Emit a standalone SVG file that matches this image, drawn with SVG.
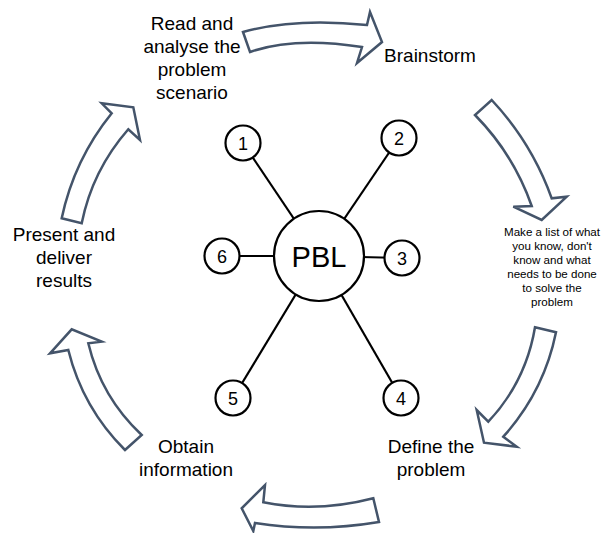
<svg xmlns="http://www.w3.org/2000/svg" width="603" height="533" viewBox="0 0 603 533">
<style>
.arrow{fill:#fff;stroke:#44546A;stroke-width:2.5;stroke-linejoin:miter}
.lbl{font-family:"Liberation Sans",Arial,sans-serif;font-size:19px;fill:#000;text-anchor:middle}
.sm{font-family:"Liberation Sans",Arial,sans-serif;font-size:11.6px;fill:#000;text-anchor:middle}
.num{font-family:"Liberation Sans",Arial,sans-serif;font-size:18px;fill:#000;text-anchor:middle}
.c{fill:#fff;stroke:#000;stroke-width:2.2}
.ln{stroke:#000;stroke-width:2.2}
</style>
<rect width="603" height="533" fill="#fff"/>
<g id="connectors">
<line class="ln" x1="319" y1="256" x2="243" y2="143"/>
<line class="ln" x1="319" y1="256" x2="399" y2="138"/>
<line class="ln" x1="319" y1="256" x2="402" y2="258"/>
<line class="ln" x1="319" y1="256" x2="401" y2="398"/>
<line class="ln" x1="319" y1="256" x2="233" y2="398"/>
<line class="ln" x1="319" y1="256" x2="222" y2="256"/>
</g>
<g id="cycle-arrows">
<path class="arrow" d="M243,32 Q295,17.5 367,25 L370,12 L382,42 L357,63 L362,47 Q294,36.5 250,52 Z"/>
<path class="arrow" d="M491.7,100 Q531.9,142.9 551.7,198.3 L566.7,196.7 L541.7,220 L513.3,206.7 L531.7,206 Q513.6,154.2 475,115 Z"/>
<path class="arrow" d="M535,327.3 L556,332.3 Q543.9,391.7 503.3,436.7 L516.7,446.7 L484,442.7 L476.7,410 L488.3,421.7 Q525.9,381.7 535,327.3 Z"/>
<path class="arrow" d="M373.3,498.3 Q317,513 263.3,502.3 L265,485 L241.7,508.3 L253.3,531 L255,523 Q317,532.5 379,522 Z"/>
<path class="arrow" d="M125,450 L141.7,435 Q101.2,397.2 88.3,343.3 L101.7,341.7 L71.7,329.3 L50,353.3 L68.3,350 Q82.7,407.9 125,450 Z"/>
<path class="arrow" d="M61.7,218.3 Q74.1,159.8 111.7,113.3 L101.7,103.3 L133.3,107.3 L140,140 L128.3,129.3 Q92.4,170.3 81.7,223.3 Z"/>
</g>
<g id="pbl">
<circle class="c" cx="319" cy="256" r="45"/>
<text x="319" y="267" font-family="Liberation Sans,Arial,sans-serif" font-size="29" text-anchor="middle">PBL</text>
</g>
<g id="n1"><circle class="c" cx="243" cy="143" r="17.5"/><text class="num" x="243" y="150">1</text></g>
<g id="n2"><circle class="c" cx="399" cy="138" r="17.5"/><text class="num" x="399" y="145">2</text></g>
<g id="n3"><circle class="c" cx="402" cy="258" r="17.5"/><text class="num" x="402" y="265">3</text></g>
<g id="n4"><circle class="c" cx="401" cy="398" r="17.5"/><text class="num" x="401" y="405">4</text></g>
<g id="n5"><circle class="c" cx="233" cy="398" r="17.5"/><text class="num" x="233" y="405">5</text></g>
<g id="n6"><circle class="c" cx="222" cy="256" r="17.5"/><text class="num" x="222" y="263">6</text></g>
<g id="step-read">
<text class="lbl" x="192" y="30">Read and</text>
<text class="lbl" x="192" y="53">analyse the</text>
<text class="lbl" x="192" y="76">problem</text>
<text class="lbl" x="192" y="99">scenario</text>
</g>
<g id="step-brainstorm"><text class="lbl" x="430" y="62">Brainstorm</text></g>
<g id="step-list">
<text class="sm" x="552" y="236">Make a list of what</text>
<text class="sm" x="552" y="250">you know, don't</text>
<text class="sm" x="552" y="264">know and what</text>
<text class="sm" x="552" y="278">needs to be done</text>
<text class="sm" x="552" y="292">to solve the</text>
<text class="sm" x="552" y="306">problem</text>
</g>
<g id="step-define">
<text class="lbl" x="431" y="453">Define the</text>
<text class="lbl" x="431" y="476">problem</text>
</g>
<g id="step-obtain">
<text class="lbl" x="186" y="453">Obtain</text>
<text class="lbl" x="186" y="476">information</text>
</g>
<g id="step-present">
<text class="lbl" x="64" y="241">Present and</text>
<text class="lbl" x="64" y="264">deliver</text>
<text class="lbl" x="64" y="287">results</text>
</g>
</svg>
